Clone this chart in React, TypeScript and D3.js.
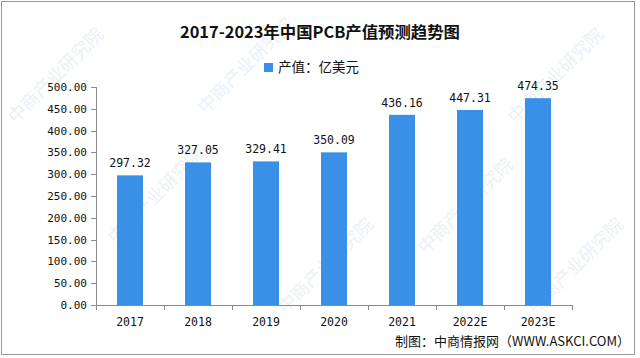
import React from "react";
import * as d3 from "d3";

const categories = ["2017", "2018", "2019", "2020", "2021", "2022E", "2023E"];
const values = [297.32, 327.05, 329.41, 350.09, 436.16, 447.31, 474.35];
const yTicks = [0, 50, 100, 150, 200, 250, 300, 350, 400, 450, 500];
const title = "2017-2023年中国PCB产值预测趋势图";
const legendLabel = "产值：亿美元";
const source = "制图：中商情报网（WWW.ASKCI.COM）";
const watermark = "中商产业研究院";

const W = 640;
const H = 358;
const M = { left: 96, right: 572, top: 87, bottom: 305 };
const BAR = "#3a8fe7";
const AXIS = "#8a8a8a";
const NUM_FONT = "'DejaVu Sans Mono', 'Liberation Mono', monospace";

export default function App() {
  const x = d3.scaleBand().domain(categories).range([M.left, M.right]).paddingInner(0).paddingOuter(0);
  const y = d3.scaleLinear().domain([0, 500]).range([M.bottom, M.top]);
  const bw = 26;
  const marks = [
    [60, 80], [250, 70], [560, 80], [160, 200], [330, 270], [470, 210], [580, 270],
  ];
  return (
    <svg width={W} height={H} style={{ position: "absolute", left: 0, top: 0, background: "#fff" }}>
      <rect x={0} y={0} width={W} height={H} fill="#fff" />
      {marks.map(([mx, my], i) => (
        <text key={i} x={mx} y={my} transform={`rotate(-45 ${mx} ${my})`} fontSize={18}
          fontFamily="'Noto Sans CJK SC', sans-serif" fill="#dde8f4" opacity={0.6} textAnchor="middle">
          {watermark}
        </text>
      ))}
      <rect x={1.5} y={1.5} width={633} height={353} fill="none" stroke="#999" strokeWidth={1} />
      <text x={320} y={38} textAnchor="middle" fontSize={16} fontWeight="bold"
        fontFamily="'Noto Sans CJK SC', sans-serif" fill="#111" textLength={280} lengthAdjust="spacingAndGlyphs">
        {title}
      </text>
      <rect x={264} y={63} width={9} height={9} fill={BAR} />
      <text x={278} y={72} fontSize={13.5} fontFamily="'Noto Sans CJK SC', sans-serif" fill="#111">
        {legendLabel}
      </text>
      {/* y axis */}
      <line x1={M.left + 0.5} x2={M.left + 0.5} y1={M.top} y2={M.bottom} stroke={AXIS} />
      {yTicks.map((t) => (
        <g key={t}>
          <line x1={M.left - 5} x2={M.left} y1={Math.round(y(t)) + 0.5} y2={Math.round(y(t)) + 0.5} stroke={AXIS} />
          <text x={M.left - 9} y={y(t) + 4} textAnchor="end" fontSize={11} fontFamily={NUM_FONT} fill="#111">
            {t.toFixed(2)}
          </text>
        </g>
      ))}
      {/* x axis */}
      <line x1={M.left} x2={M.right} y1={M.bottom + 0.5} y2={M.bottom + 0.5} stroke={AXIS} />
      {[...categories.map((c) => x(c) as number), M.right].map((bx, i) => (
        <line key={i} x1={Math.round(bx) + 0.5} x2={Math.round(bx) + 0.5} y1={M.bottom} y2={M.bottom + 5} stroke={AXIS} />
      ))}
      {categories.map((c, i) => {
        const cx = (x(c) as number) + x.bandwidth() / 2;
        return (
          <g key={c}>
            <rect x={cx - bw / 2} y={y(values[i])} width={bw} height={M.bottom - y(values[i])} fill={BAR} />
            <text x={cx} y={y(values[i]) - 8} textAnchor="middle" fontSize={11.5} fontFamily={NUM_FONT} fill="#111">
              {values[i].toFixed(2)}
            </text>
            <text x={cx} y={326} textAnchor="middle" fontSize={11.5} fontFamily={NUM_FONT} fill="#111">
              {c}
            </text>
          </g>
        );
      })}
      <text x={630} y={346} textAnchor="end" fontSize={13} fontFamily="'Noto Sans CJK SC', sans-serif" fill="#111">
        {source}
      </text>
    </svg>
  );
}
